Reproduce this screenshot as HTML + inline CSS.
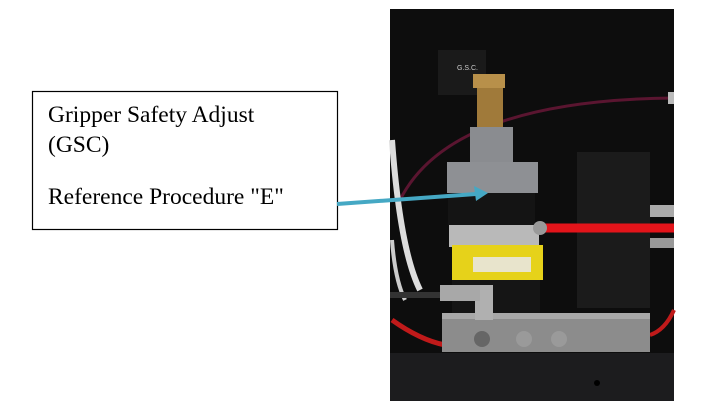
<!DOCTYPE html>
<html><head><style>
body{margin:0;width:708px;height:417px;background:#fff;position:relative;overflow:hidden;font-family:"Liberation Serif",serif}
.a{position:absolute}
</style></head><body>
<svg class="a" style="left:0;top:0" width="708" height="417">
<rect x="390" y="9" width="284" height="344" fill="#0d0d0d"/>
<rect x="390" y="353" width="284" height="48" fill="#1c1c1e"/>
<circle cx="597" cy="383" r="3" fill="#000"/>
<rect x="438" y="50" width="48" height="45" fill="#1a1a1a"/>
<text x="457" y="70" font-family="Liberation Sans" font-size="7" fill="#ccc">G.S.C.</text>
<path d="M400 200 Q450 100 674 98" stroke="#5a1530" stroke-width="3" fill="none"/>
<rect x="668" y="92" width="6" height="12" fill="#bbb"/>
<path d="M392 140 Q400 250 420 290" stroke="#ddd" stroke-width="6" fill="none"/>
<path d="M392 240 Q395 280 405 300" stroke="#ccc" stroke-width="4" fill="none"/>
<path d="M392 320 Q420 340 445 345" stroke="#c01a1a" stroke-width="5" fill="none"/>
<path d="M650 335 Q665 330 674 310" stroke="#c01a1a" stroke-width="4" fill="none"/>
<rect x="390" y="292" width="60" height="6" fill="#333"/>
<rect x="577" y="152" width="73" height="156" fill="#1b1b1b"/>
<rect x="650" y="205" width="24" height="12" fill="#aaa"/>
<rect x="650" y="238" width="24" height="10" fill="#999"/>
<rect x="473" y="74" width="32" height="14" fill="#b8904a"/>
<rect x="477" y="88" width="26" height="39" fill="#a07a3a"/>
<rect x="470" y="127" width="43" height="43" fill="#8a8c90"/>
<rect x="447" y="162" width="91" height="31" fill="#8e9094"/>
<rect x="448" y="193" width="87" height="32" fill="#141414"/>
<rect x="449" y="225" width="90" height="22" fill="#b9b9b9"/>
<rect x="452" y="245" width="91" height="35" fill="#e6d21a"/>
<rect x="473" y="257" width="58" height="15" fill="#e8e4cc"/>
<rect x="452" y="280" width="88" height="33" fill="#151515"/>
<rect x="442" y="313" width="208" height="39" fill="#8c8c8c"/>
<rect x="442" y="313" width="208" height="6" fill="#a8a8a8"/>
<circle cx="482" cy="339" r="8" fill="#666"/>
<circle cx="524" cy="339" r="8" fill="#9a9a9a"/>
<circle cx="559" cy="339" r="8" fill="#9a9a9a"/>
<rect x="475" y="285" width="18" height="35" fill="#b0b0b0"/>
<rect x="440" y="285" width="40" height="16" fill="#a8a8a8"/>
<path d="M538 228 L674 228" stroke="#e3141a" stroke-width="9"/>
<circle cx="540" cy="228" r="7" fill="#999"/>
<rect x="32.5" y="91.5" width="305" height="138" fill="#fff" stroke="#000" stroke-width="1.2"/>
<line x1="337" y1="204" x2="476" y2="194" stroke="#45a8c4" stroke-width="4"/>
<polygon points="488,193 474,186 476,201" fill="#45a8c4"/>
<text font-size="23.5" fill="#000"><tspan x="48" y="122">Gripper Safety Adjust</tspan><tspan x="48" y="152">(GSC)</tspan><tspan x="48" y="204">Reference Procedure "E"</tspan></text>
</svg>
</body></html>
